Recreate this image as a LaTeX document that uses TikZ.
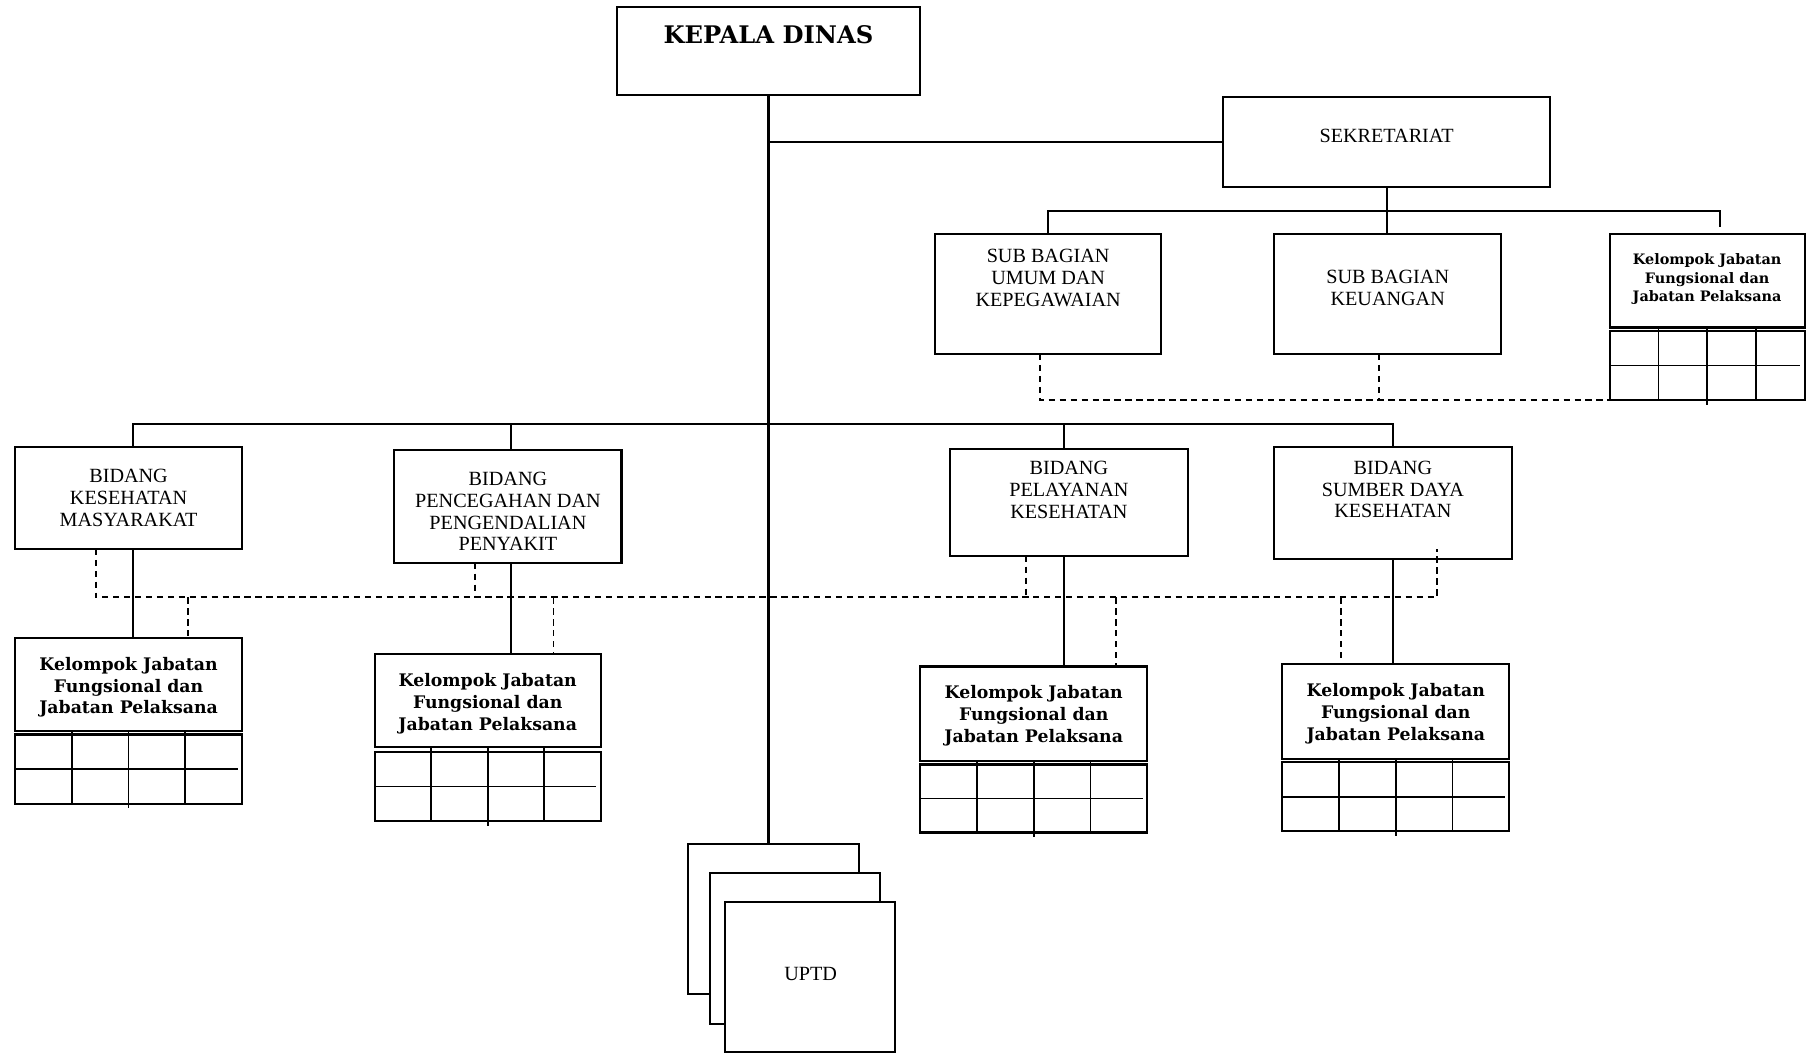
\documentclass[tikz,border=0pt]{standalone}
\usepackage{fontspec}
\setmainfont{Liberation Serif}
\newfontfamily\bkfont{DejaVu Serif}
\usetikzlibrary{calc}
\begin{document}
\begin{tikzpicture}[x=1pt,y=-1pt,
  bx/.style={draw, line width=1.8pt, fill=white, inner sep=0pt, outer sep=0pt},
  ln/.style={line width=1.7pt},
  mainln/.style={line width=2.2pt},
  dsh/.style={line width=1.5pt, dash pattern=on 5.5pt off 4pt},
  grd/.style={line width=1.5pt},
  reg/.style={align=center, inner sep=0pt, font=\fontsize{17.5}{19}\selectfont},
  kel/.style={align=center, inner sep=0pt, font=\bkfont\bfseries\fontsize{15}{19}\selectfont},
  kels/.style={align=center, inner sep=0pt, font=\bkfont\bfseries\fontsize{12.5}{16}\selectfont},
  head/.style={align=center, inner sep=0pt, font=\bkfont\bfseries\fontsize{21}{24}\selectfont},
]
\useasboundingbox (0,0) rectangle (1568,913);
\newcommand\mkbox[5]{\node[bx, minimum width={#4-#2}, minimum height={#5-#3}] (#1) at ({(#2+#4)/2},{(#3+#5)/2}) {};}
\newcommand\mkgrid[6]{%
  \mkbox{#1}{#2}{#3}{#4}{#5}
  \draw[grd] (#1.west) -- ([xshift=-4pt]#1.east);
  \draw[grd] ({#2+(#4-#2)/4},#6) -- ({#2+(#4-#2)/4},#5);
  \draw[grd] ({#2+(#4-#2)/2},#6) -- ({#2+(#4-#2)/2},#5+4);
  \draw[grd] ({#2+3*(#4-#2)/4},#6) -- ({#2+3*(#4-#2)/4},#5);
}

% boxes
\mkbox{kd}{535}{6}{798}{82}
\mkbox{sek}{1061}{84}{1344}{162}
\mkbox{sub1}{811}{203}{1007}{307}
\mkbox{sub2}{1105}{203}{1302}{307}
\mkbox{kjt}{1396}{203}{1565}{284}
\mkgrid{kjg}{1396}{287}{1565}{347}{284}

\mkbox{b1}{13}{388}{210}{476}
\mkbox{b2}{342}{390}{539}{488}
\mkbox{b3}{824}{389}{1030}{482}
\mkbox{b4}{1105}{388}{1311}{485}

\mkbox{k1}{13}{553}{210}{634}
\mkgrid{g1}{13}{637}{210}{697}{634}
\mkbox{k2}{325}{567}{521}{648}
\mkgrid{g2}{325}{652}{521}{712}{648}
\mkbox{k3}{798}{578}{995}{660}
\mkgrid{g3}{798}{663}{995}{722}{660}
\mkbox{k4}{1112}{576}{1309}{658}
\mkgrid{g4}{1112}{661}{1309}{721}{658}

% texts
\node[head] (tkd) at (666.5,30) {KEPALA DINAS};
\node[reg] (tsek) at (1202.5,118) {SEKRETARIAT};
\node[reg] (tsub1) at (909,241) {SUB BAGIAN\\UMUM DAN\\KEPEGAWAIAN};
\node[reg] (tsub2) at (1203.5,250) {SUB BAGIAN\\KEUANGAN};
\node[kels] (tkjt) at (1480.5,242) {Kelompok Jabatan\\Fungsional dan\\Jabatan Pelaksana};
\node[reg] (tb1) at (111.5,432) {BIDANG\\KESEHATAN\\MASYARAKAT};
\node[reg] (tb2) at (440.5,443.5) {BIDANG\\PENCEGAHAN DAN\\PENGENDALIAN\\PENYAKIT};
\node[reg] (tb3) at (927,425) {BIDANG\\PELAYANAN\\KESEHATAN};
\node[reg] (tb4) at (1208,424.5) {BIDANG\\SUMBER DAYA\\KESEHATAN};
\node[kel] (tk1) at (111.5,596) {Kelompok Jabatan\\Fungsional dan\\Jabatan Pelaksana};
\node[kel] (tk2) at (423,610) {Kelompok Jabatan\\Fungsional dan\\Jabatan Pelaksana};
\node[kel] (tk3) at (896.5,621) {Kelompok Jabatan\\Fungsional dan\\Jabatan Pelaksana};
\node[kel] (tk4) at (1210.5,619) {Kelompok Jabatan\\Fungsional dan\\Jabatan Pelaksana};

% solid connectors
\coordinate (sb) at (0,183);
\coordinate (bb) at (0,368);
\coordinate (kjtick) at (1492,197);
\draw[ln] (kd.south |- sek.west) -- (sek.west);
\draw[ln] (sek.south) -- (sek.south |- sub2.north);
\draw[ln] (sub1.north) -- (sub1.north |- sb) -- (kjtick |- sb) -- (kjtick);
\draw[ln] ([xshift=3.5pt]b1.north) -- ([xshift=3.5pt]b1.north |- bb) -- (b4.north |- bb) -- (b4.north);
\draw[ln] ([xshift=2.5pt]b2.north) -- ([xshift=2.5pt]b2.north |- bb);
\draw[ln] ([xshift=-4pt]b3.north) -- ([xshift=-4pt]b3.north |- bb);
\draw[ln] ([xshift=3.5pt]b1.south) -- ([xshift=3.5pt]b1.south |- k1.north);
\draw[ln] ([xshift=2.5pt]b2.south) -- ([xshift=2.5pt]b2.south |- k2.north);
\draw[ln] ([xshift=-4pt]b3.south) -- ([xshift=-4pt]b3.south |- k3.north);
\draw[ln] (b4.south) -- (b4.south |- k4.north);

% dashed connectors
\coordinate (sd) at (0,347);
\coordinate (dl) at (0,518);
\draw[dsh] ([xshift=-7pt]sub1.south) -- ([xshift=-7pt]sub1.south |- sd) -- (kjg.south west);
\draw[dsh] ([xshift=-7.5pt]sub2.south) -- ([xshift=-7.5pt]sub2.south |- sd);
\draw[dsh] ([xshift=-28.5pt]b1.south) -- ([xshift=-28.5pt]b1.south |- dl) -- ([xshift=38pt]b4.south |- dl) -- ([xshift=38pt,yshift=9pt]b4.south);
\draw[dsh] ([xshift=-28.5pt]b2.south) -- ([xshift=-28.5pt]b2.south |- dl);
\draw[dsh] ([xshift=-37pt]b3.south) -- ([xshift=-37pt]b3.south |- dl);
\draw[dsh] ([xshift=51.5pt]k1.north |- dl) -- ([xshift=51.5pt]k1.north);
\draw[dsh] ([xshift=57pt]k2.north |- dl) -- ([xshift=57pt]k2.north);
\draw[dsh] ([xshift=71.5pt]k3.north |- dl) -- ([xshift=71.5pt]k3.north);
\draw[dsh] ([xshift=-47.5pt]k4.north |- dl) -- ([xshift=-47.5pt]k4.north);

% UPTD stack
\mkbox{u1}{597}{732}{745}{862}
\draw[mainln] (kd.south) -- (kd.south |- u1.north);
\mkbox{u2}{616}{757}{763}{888}
\mkbox{u3}{629}{782}{776}{912}
\node[reg] (tu) at (703,845) {UPTD};
\end{tikzpicture}
\end{document}
